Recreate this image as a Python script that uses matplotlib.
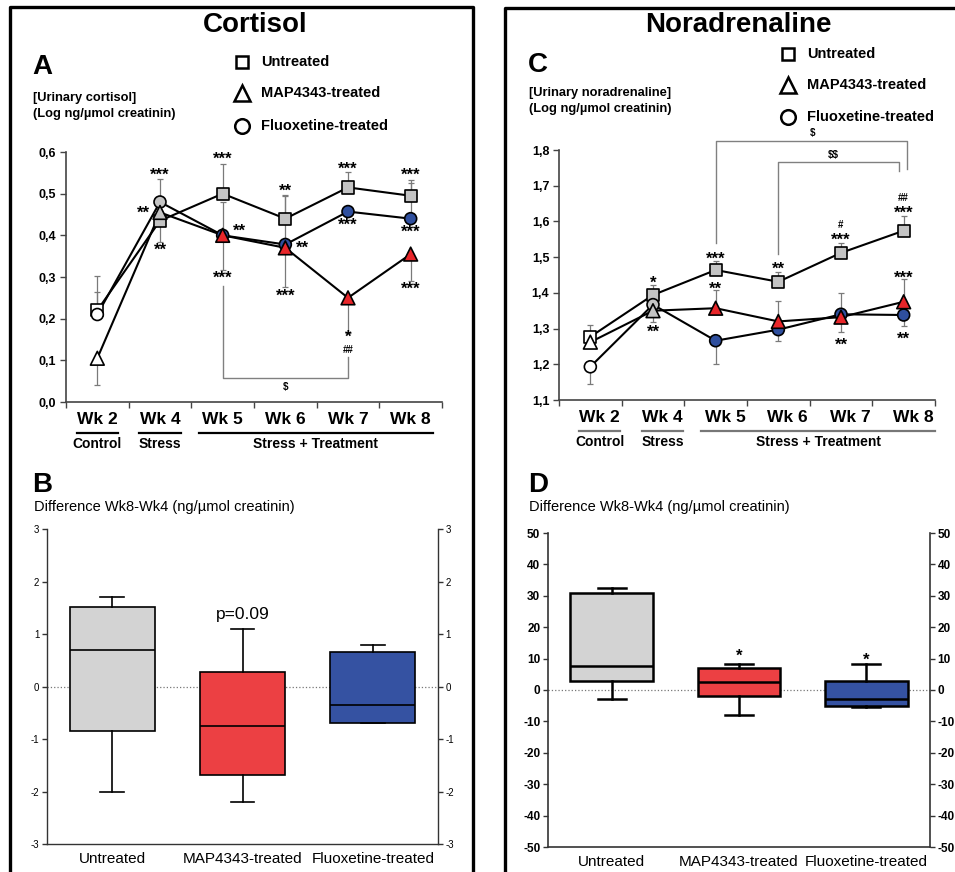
import matplotlib

matplotlib.use("Agg")
import matplotlib.pyplot as plt
from matplotlib.lines import Line2D

plt.rcParams["font.family"] = ["Liberation Sans", "DejaVu Sans"]

weeks = ["Wk 2", "Wk 4", "Wk 5", "Wk 6", "Wk 7", "Wk 8"]
phases = ["Control", "Stress", "Stress + Treatment"]
groups = ["Untreated", "MAP4343-treated", "Fluoxetine-treated"]

# A: urinary cortisol (log ng/umol creatinin)
cort_untreated = [0.22, 0.435, 0.50, 0.44, 0.515, 0.495]
cort_map = [0.105, 0.455, 0.40, 0.37, 0.25, 0.355]
cort_fluox = [0.21, 0.48, 0.40, 0.378, 0.457, 0.44]
cort_untreated_up = [0.083, 0.0, 0.07, 0.055, 0.037, 0.038]
cort_untreated_down = [0.0, 0.052, 0.0, 0.0, 0.0, 0.0]
cort_map_up = [0.0, 0.0, 0.0, 0.0, 0.0, 0.0]
cort_map_down = [0.065, 0.0, 0.083, 0.093, 0.085, 0.065]
cort_fluox_up = [0.053, 0.055, 0.08, 0.12, 0.0, 0.085]
cort_fluox_down = [0.0, 0.0, 0.0, 0.0, 0.0, 0.0]
cort_ticks = [0.0, 0.1, 0.2, 0.3, 0.4, 0.5, 0.6]
cort_tick_labels = ["0,0", "0,1", "0,2", "0,3", "0,4", "0,5", "0,6"]
# (week index, y, label, x shift)
cort_stars = [
    (1, 0.552, "***", 0.0), (1, 0.462, "**", -0.27), (1, 0.372, "**", 0.0),
    (2, 0.590, "***", 0.0), (2, 0.418, "**", 0.27), (2, 0.305, "***", 0.0),
    (3, 0.515, "**", 0.0), (3, 0.378, "**", 0.28), (3, 0.262, "***", 0.0),
    (4, 0.567, "***", 0.0), (4, 0.432, "***", 0.0), (4, 0.163, "*", 0.0),
    (4, 0.125, "##", 0.0),
    (5, 0.552, "***", 0.0), (5, 0.415, "***", 0.0), (5, 0.278, "***", 0.0),
]

# C: urinary noradrenaline (log ng/umol creatinin)
nor_untreated = [1.277, 1.394, 1.464, 1.431, 1.512, 1.574]
nor_map = [1.262, 1.350, 1.357, 1.320, 1.332, 1.375]
nor_fluox = [1.193, 1.367, 1.266, 1.297, 1.340, 1.338]
nor_untreated_up = [0.033, 0.028, 0.025, 0.028, 0.028, 0.042]
nor_untreated_down = [0.0, 0.0, 0.0, 0.0, 0.0, 0.0]
nor_map_up = [0.0, 0.0, 0.051, 0.058, 0.0, 0.063]
nor_map_down = [0.0, 0.032, 0.0, 0.0, 0.042, 0.0]
nor_fluox_up = [0.0, 0.0, 0.0, 0.0, 0.06, 0.0]
nor_fluox_down = [0.048, 0.0, 0.066, 0.031, 0.0, 0.031]
nor_ticks = [1.1, 1.2, 1.3, 1.4, 1.5, 1.6, 1.7, 1.8]
nor_tick_labels = ["1,1", "1,2", "1,3", "1,4", "1,5", "1,6", "1,7", "1,8"]
nor_stars = [
    (1, 1.437, "*", 0.0), (1, 1.298, "**", 0.0),
    (2, 1.504, "***", 0.0), (2, 1.421, "**", 0.0),
    (3, 1.476, "**", 0.0),
    (4, 1.590, "#", 0.0), (4, 1.556, "***", 0.0), (4, 1.263, "**", 0.0),
    (5, 1.666, "##", 0.0), (5, 1.632, "***", 0.0), (5, 1.451, "***", 0.0),
    (5, 1.281, "**", 0.0),
]

# B / D: difference Wk8 - Wk4 box plots (whislo, q1, median, q3, whishi)
cort_diff_low = [-2.0, -2.2, -0.70]
cort_diff_q1 = [-0.85, -1.68, -0.70]
cort_diff_median = [0.70, -0.75, -0.35]
cort_diff_q3 = [1.52, 0.28, 0.65]
cort_diff_high = [1.70, 1.10, 0.80]

nor_diff_low = [-3.0, -8.0, -5.4]
nor_diff_q1 = [3.0, -2.0, -5.0]
nor_diff_median = [7.7, 2.5, -3.0]
nor_diff_q3 = [31.0, 7.0, 2.8]
nor_diff_high = [32.5, 8.3, 8.3]

W, H = 955, 872
GRAY = "#c4c4c4"
RED = "#e8262a"
BLUE = "#2f4f9e"
BOX_COLORS = ["#d3d3d3", "#ec4043", "#3552a2"]


def fx(px):
    return px / W


def fy(py):
    return 1 - py / H


def faces(color):
    return ["white", GRAY] + [color] * 4


def sig_label(ax, x, y, label):
    # asterisks sit high in the line box, so nudge them down a little
    if "*" in label:
        ax.annotate(label, (x, y), xytext=(0, -2.5), textcoords="offset points",
                    ha="center", va="center", fontsize=12, fontweight="bold", zorder=6)
    else:
        ax.text(x, y, label, ha="center", va="center", fontsize=7, fontweight="bold",
                zorder=6)


def draw_weekly(ax, series, ups, downs, colors, markers, sizes, ylim, ticks, tick_labels,
                stars, shift, underline_color):
    x = [i + 0.5 for i in range(len(weeks))]
    for values, up, down in zip(series, ups, downs):
        ax.errorbar(x, values, yerr=[down, up], fmt="none", ecolor="#7a7a7a",
                    elinewidth=0.9, capsize=2.2, capthick=0.9, zorder=1)
    for k, (values, color, marker, size) in enumerate(zip(series, colors, markers, sizes)):
        ax.plot(x, values, color="black", linewidth=1.5, zorder=2)
        ax.scatter(x, values, s=size, marker=marker, c=faces(color),
                   edgecolors="black", linewidths=1.2, zorder=3 + k)

    for i, y, label, dx in stars:
        sig_label(ax, i + 0.5 + dx, y, label)

    ax.set_xlim(0, 6)
    ax.set_ylim(*ylim)
    ax.set_xticks(range(7))
    ax.set_xticklabels([])
    ax.set_yticks(ticks)
    ax.set_yticklabels(tick_labels, fontsize=9, fontweight="bold")
    ax.tick_params(axis="both", direction="out", length=4, width=1, color="#444444", pad=3)
    for side in ("top", "right"):
        ax.spines[side].set_visible(False)
    for side in ("left", "bottom"):
        ax.spines[side].set_color("#444444")
        ax.spines[side].set_linewidth(1.2)

    tr = ax.get_xaxis_transform()
    for i, wk in enumerate(weeks):
        ax.text(i + 0.5 + shift, -0.068, wk, transform=tr, ha="center", va="center",
                fontsize=12.5, fontweight="bold")
    spans = [(0.17, 0.83), (1.17, 1.83), (2.12, 5.85)]
    for (a, b), phase in zip(spans, phases):
        ax.plot([a + shift, b + shift], [-0.124, -0.124], transform=tr, color=underline_color,
                linewidth=1.6, clip_on=False)
        ax.text((a + b) / 2 + shift, -0.168, phase, transform=tr, ha="center", va="center",
                fontsize=10, fontweight="bold")


def bracket(ax, x0, y0, x1, y1, top, label, label_x, label_y):
    ax.plot([x0, x0, x1, x1], [y0, top, top, y1], color="#808080", linewidth=1,
            clip_on=False, zorder=1)
    ax.text(label_x, label_y, label, ha="center", va="center", fontsize=7,
            fontweight="bold", clip_on=False, parse_math=False)


def draw_box(ax, low, q1, med, q3, high, ylim, ticks, lw, capw, bold_ticks):
    stats = [
        {"whislo": a, "q1": b, "med": c, "q3": d, "whishi": e, "fliers": []}
        for a, b, c, d, e in zip(low, q1, med, q3, high)
    ]
    ax.axhline(0, color="#777777", linestyle=":", linewidth=0.9, zorder=0)
    bp = ax.bxp(stats, positions=[1, 2, 3], widths=0.65, patch_artist=True,
                showfliers=False, capwidths=capw,
                boxprops={"edgecolor": "black", "linewidth": lw},
                medianprops={"color": "black", "linewidth": lw},
                whiskerprops={"color": "black", "linewidth": lw},
                capprops={"color": "black", "linewidth": lw})
    for patch, color in zip(bp["boxes"], BOX_COLORS):
        patch.set_facecolor(color)
        patch.set_zorder(2)

    ax.set_xlim(0.5, 3.5)
    ax.set_ylim(*ylim)
    ax.set_yticks(ticks)
    ax.set_xticks([1, 2, 3])
    ax.set_xticklabels(groups, fontsize=11)
    weight = "bold" if bold_ticks else "normal"
    size = 8.5 if bold_ticks else 7
    ax.set_yticklabels([str(t) for t in ticks], fontsize=size, fontweight=weight)
    ax.tick_params(axis="y", direction="out", length=3.5, width=1, left=True, right=True,
                   labelleft=True, labelright=True, color="#333333", pad=2)
    ax.tick_params(axis="x", length=0, pad=6)
    ax.spines["top"].set_visible(False)
    for side in ("left", "right", "bottom"):
        ax.spines[side].set_color("#333333")
        ax.spines[side].set_linewidth(1.2 if bold_ticks else 1.0)


def draw_legend(fig, x_marker, x_text, ys):
    markers = [("s", 9), ("^", 11.5), ("o", 10.5)]
    for (marker, size), label, y in zip(markers, groups, ys):
        fig.add_artist(Line2D([fx(x_marker)], [fy(y)], marker=marker, markersize=size,
                              markerfacecolor="white", markeredgecolor="black",
                              markeredgewidth=1.8, linestyle="none",
                              transform=fig.transFigure))
        fig.text(fx(x_text), fy(y), label, ha="left", va="center", fontsize=10.5,
                 fontweight="bold")


def main():
    fig = plt.figure(figsize=(W / 100, H / 100), dpi=100)

    # panel frames
    for xs, ys in [([10, 10, 473, 473], [880, 7, 7, 880]), ([505, 505, 960], [880, 8, 8])]:
        fig.add_artist(Line2D([fx(v) for v in xs], [fy(v) for v in ys], color="black",
                              linewidth=2.4, transform=fig.transFigure))

    ax_a = fig.add_axes([fx(66), fy(402), fx(442) - fx(66), fy(152) - fy(402)])
    ax_c = fig.add_axes([fx(559), fy(400), fx(935) - fx(559), fy(150) - fy(400)])
    ax_b = fig.add_axes([fx(47), fy(844), fx(438) - fx(47), fy(529) - fy(844)])
    ax_d = fig.add_axes([fx(548), fy(847), fx(930) - fx(548), fy(533) - fy(847)])

    markers = ["s", "o", "^"]
    sizes = [78, 74, 98]
    colors = [GRAY, BLUE, RED]

    draw_weekly(ax_a, [cort_untreated, cort_fluox, cort_map],
                [cort_untreated_up, cort_fluox_up, cort_map_up],
                [cort_untreated_down, cort_fluox_down, cort_map_down],
                colors, markers, sizes, (0.0, 0.6), cort_ticks, cort_tick_labels,
                cort_stars, 0.0, "black")
    bracket(ax_a, 2.5, 0.278, 4.5, 0.108, 0.058, "$", 3.5, 0.036)

    draw_weekly(ax_c, [nor_untreated, nor_fluox, nor_map],
                [nor_untreated_up, nor_fluox_up, nor_map_up],
                [nor_untreated_down, nor_fluox_down, nor_map_down],
                colors, markers, sizes, (1.1, 1.8), nor_ticks, nor_tick_labels,
                nor_stars, 0.15, "#777777")
    bracket(ax_c, 2.5, 1.54, 5.55, 1.747, 1.826, "$", 4.05, 1.848)
    bracket(ax_c, 3.5, 1.509, 5.42, 1.74, 1.765, "$$", 4.37, 1.787)

    draw_box(ax_b, cort_diff_low, cort_diff_q1, cort_diff_median, cort_diff_q3,
             cort_diff_high, (-3, 3), [-3, -2, -1, 0, 1, 2, 3], 1.2, 0.18, False)
    ax_b.text(2, 1.38, "p=0.09", ha="center", va="center", fontsize=12.5)

    draw_box(ax_d, nor_diff_low, nor_diff_q1, nor_diff_median, nor_diff_q3,
             nor_diff_high, (-50, 50), list(range(-50, 51, 10)), 1.8, 0.22, True)
    ax_d.annotate("*", (2, 11.5), xytext=(0, -2), textcoords="offset points",
                  ha="center", va="center", fontsize=12, fontweight="bold")
    ax_d.annotate("*", (3, 10.5), xytext=(0, -2), textcoords="offset points",
                  ha="center", va="center", fontsize=12, fontweight="bold")

    # titles and panel letters
    fig.text(fx(255), fy(25), "Cortisol", ha="center", va="center", fontsize=20,
             fontweight="bold")
    fig.text(fx(738), fy(25), "Noradrenaline", ha="center", va="center", fontsize=20,
             fontweight="bold")
    for label, x, y in [("A", 42, 67), ("C", 538, 65), ("B", 42, 485), ("D", 538, 485)]:
        fig.text(fx(x), fy(y), label, ha="center", va="center", fontsize=20,
                 fontweight="bold")

    fig.text(fx(33), fy(98), "[Urinary cortisol]", ha="left", va="center", fontsize=9.3,
             fontweight="bold")
    fig.text(fx(33), fy(114), "(Log ng/\u00b5mol creatinin)", ha="left", va="center",
             fontsize=9.3, fontweight="bold")
    fig.text(fx(529), fy(93), "[Urinary noradrenaline]", ha="left", va="center",
             fontsize=9.3, fontweight="bold")
    fig.text(fx(529), fy(109), "(Log ng/\u00b5mol creatinin)", ha="left", va="center",
             fontsize=9.3, fontweight="bold")

    draw_legend(fig, 242, 261, [62, 93, 126])
    draw_legend(fig, 788, 807, [54, 85, 117])

    fig.text(fx(34), fy(507), "Difference Wk8-Wk4 (ng/\u00b5mol creatinin)", ha="left",
             va="center", fontsize=10.5)
    fig.text(fx(529), fy(507), "Difference Wk8-Wk4 (ng/\u00b5mol creatinin)", ha="left",
             va="center", fontsize=10.5)

    fig.savefig("out.png", dpi=100)
    plt.close(fig)


if __name__ == "__main__":
    main()
